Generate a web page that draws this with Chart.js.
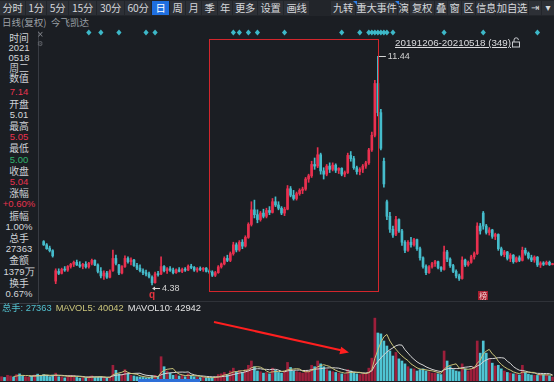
<!DOCTYPE html>
<html><head><meta charset="utf-8">
<script src="https://cdn.jsdelivr.net/npm/chart.js@4.4.1/dist/chart.umd.min.js"></script>
<style>
html,body{margin:0;padding:0;background:#1b1e23;width:554px;height:382px;overflow:hidden;}
body{position:relative;font-family:"Liberation Sans","Noto Sans CJK SC",sans-serif;}
.abs{position:absolute;white-space:nowrap;}
#tbbg{position:absolute;left:0;top:0;width:554px;height:16px;background:#22252a;}
.btn{position:absolute;top:1px;height:14px;line-height:14px;font-size:10.3px;color:#d6d8dc;background:#2d3036;text-align:center;font-family:"Noto Sans CJK SC",sans-serif;white-space:nowrap;overflow:visible;letter-spacing:-0.2px;}
.btn.on{background:#1f6fe0;color:#fff;}
.tri{position:absolute;top:1px;width:0;height:0;border-top:4px solid #2f7fe8;border-left:4px solid transparent;}
#panel{position:absolute;left:0;top:31px;width:38px;height:272px;background:#1b1e23;border-right:1px solid #383b42;border-bottom:1px solid #383b42;z-index:5;}
.pl{position:absolute;left:0;width:38px;text-align:center;height:12px;line-height:12px;white-space:nowrap;}
.lab{font-family:"Noto Sans CJK SC",sans-serif;font-size:9.8px;color:#cfd2d7;}
.val{font-family:"Liberation Sans",sans-serif;font-size:9.5px;color:#d4d6da;}
canvas{position:absolute;left:0;}
</style></head>
<body>
<div id="tbbg"></div>
<div id="tb"></div>
<div class="abs" style="left:2px;top:16px;height:12px;line-height:12px;font-size:9.5px;color:#9ba0a6;font-family:'Noto Sans CJK SC',sans-serif;">日线(复权)</div>
<div class="abs" style="left:51px;top:16px;height:12px;line-height:12px;font-size:9.5px;color:#9ba0a6;font-family:'Noto Sans CJK SC',sans-serif;">今飞凯达</div>

<canvas id="price" width="554" height="275" style="top:26px"></canvas>
<canvas id="vol" width="554" height="69" style="top:312px"></canvas>

<div class="abs" style="left:38px;top:301px;width:516px;height:1px;background:#2f3238;"></div>
<div class="abs" style="left:138px;top:379px;width:62px;height:3px;background:#2d6fd8;"></div>

<div id="panel"></div>
<div class="abs" style="left:37px;top:30px;font-size:8px;color:#8a8d93;z-index:6;font-family:'DejaVu Sans';">×</div>
<div class="abs" style="left:37px;top:40px;font-size:7px;color:#6c6f75;z-index:6;font-family:'DejaVu Sans';">⚙</div>

<div id="vlegend" class="abs" style="left:2px;top:302px;height:12px;line-height:12px;font-size:9.3px;z-index:6;"></div>

<div class="abs" style="left:395px;top:37px;height:12px;line-height:12px;font-size:9.8px;color:#dcdde0;text-decoration:underline;" id="range"></div>
<svg class="abs" style="left:510px;top:36px" width="12" height="12"><path d="M4 6 V4 a2.2 2.2 0 0 1 4.4 0" fill="none" stroke="#c9cbd0" stroke-width="1"/><rect x="2.5" y="6" width="7" height="5" fill="none" stroke="#c9cbd0" stroke-width="1"/></svg>

<svg class="abs" style="left:0;top:0;z-index:7;pointer-events:none" width="554" height="382">
<line x1="214" y1="322" x2="341" y2="350.2" stroke="#ff1f1f" stroke-width="2"/>
<polygon points="349,352.5 339.4,354.2 341.2,346.8" fill="#ff1f1f"/>
</svg>

<script>
// ---------- DATA ----------
// 14 leading bars are hidden behind the info panel (price not visible), volume visible
const open = [null,null,null,null,null,null,null,null,null,null,null,null,null,null,
5.72,5.62,5.52,5.44,4.50,4.80,4.74,4.86,4.84,4.95,
5.02,5.08,5.00,4.96,5.02,4.94,5.05,5.14,5.00,4.80,
4.66,4.75,4.62,4.82,5.20,5.00,4.75,4.95,5.20,5.10,
5.15,4.98,4.90,4.82,4.76,4.72,4.62,4.45,4.72,4.72,
4.95,4.82,4.88,4.84,4.76,4.85,4.80,4.86,4.84,4.96,
4.92,4.84,4.88,4.86,4.90,4.80,4.78,4.68,4.76,4.94,
5.03,5.20,5.14,5.35,5.62,5.46,5.70,5.58,5.85,6.25,
6.70,6.55,6.40,6.60,6.50,6.68,6.62,6.95,6.85,6.75,
6.60,6.72,7.35,7.15,7.05,7.20,7.30,7.34,7.65,7.75,
8.10,8.05,8.40,7.90,7.80,8.05,7.95,8.08,7.92,7.98,
7.80,7.85,8.38,8.28,8.00,7.88,7.95,8.05,8.15,8.55,
9.00,10.60,9.70,8.20,6.95,6.50,6.10,5.95,6.40,6.05,
5.70,5.45,5.70,5.62,5.78,5.50,5.22,4.95,4.76,4.94,
5.04,5.10,4.92,4.86,5.40,5.18,4.98,4.80,4.66,4.58,
5.15,5.00,5.08,5.25,5.35,6.20,6.60,6.20,6.00,6.08,
5.88,5.94,5.50,5.32,5.40,5.20,5.30,5.10,5.22,5.14,
5.45,5.36,5.22,5.15,5.24,5.00,5.06,5.02,5.08,5.01];
const high = [null,null,null,null,null,null,null,null,null,null,null,null,null,null,
5.75,5.66,5.58,5.47,4.88,4.88,4.90,4.95,4.98,5.05,
5.12,5.15,5.10,5.05,5.10,5.08,5.18,5.16,5.03,4.92,
4.82,4.80,4.85,5.46,5.30,5.02,4.98,5.28,5.25,5.22,
5.17,5.05,5.00,4.88,4.84,4.78,4.66,4.78,4.80,5.25,
4.98,4.92,4.95,4.90,4.88,4.92,4.90,4.92,5.00,5.02,
4.95,4.92,4.94,4.92,4.92,4.85,4.82,4.80,4.98,5.06,
5.25,5.30,5.40,5.70,5.68,5.75,5.78,5.90,6.30,6.95,
7.00,6.70,6.65,6.72,6.75,6.80,7.05,7.10,6.95,6.80,
6.78,7.45,7.42,7.30,7.25,7.35,7.40,7.70,7.80,8.20,
8.30,8.62,8.45,8.00,8.10,8.15,8.15,8.12,8.00,8.00,
7.90,8.45,8.50,8.35,8.05,8.00,8.10,8.20,8.60,9.10,
10.70,11.44,9.80,8.30,7.00,6.62,6.20,6.50,6.42,6.10,
5.75,5.75,5.85,5.82,5.80,5.55,5.25,5.00,4.98,5.08,
5.14,5.12,4.95,5.58,5.45,5.22,5.02,4.85,4.72,5.25,
5.18,5.12,5.30,5.40,6.30,6.28,6.65,6.25,6.15,6.10,
5.98,5.96,5.55,5.45,5.42,5.35,5.32,5.25,5.28,5.55,
5.52,5.40,5.30,5.28,5.26,5.10,5.10,5.12,5.12,5.05];
const low = [null,null,null,null,null,null,null,null,null,null,null,null,null,null,
5.60,5.48,5.40,5.24,4.42,4.70,4.72,4.80,4.80,4.90,
4.95,4.98,4.92,4.88,4.90,4.90,5.00,4.98,4.75,4.60,
4.55,4.58,4.60,4.80,5.00,4.70,4.72,4.92,5.05,5.00,
4.95,4.85,4.78,4.70,4.66,4.60,4.38,4.44,4.65,4.70,
4.78,4.74,4.80,4.72,4.74,4.78,4.76,4.80,4.82,4.88,
4.80,4.78,4.82,4.80,4.78,4.74,4.64,4.64,4.74,4.90,
5.00,5.10,5.10,5.30,5.40,5.42,5.50,5.55,5.82,6.20,
6.45,6.30,6.35,6.45,6.45,6.55,6.60,6.80,6.70,6.55,
6.52,6.70,7.10,7.00,7.00,7.15,7.20,7.30,7.55,7.70,
7.95,8.00,7.80,7.65,7.75,7.85,7.90,7.85,7.82,7.75,
7.72,7.82,8.20,7.95,7.80,7.78,7.85,7.98,8.10,8.50,
8.95,9.60,8.55,7.40,6.40,6.00,5.85,5.90,6.00,5.60,
5.38,5.42,5.55,5.58,5.45,5.15,4.90,4.70,4.74,4.90,
4.95,4.88,4.80,4.84,5.10,4.92,4.76,4.60,4.52,4.56,
4.95,4.96,5.05,5.18,5.32,5.95,6.10,5.95,5.92,5.82,
5.78,5.45,5.28,5.25,5.15,5.10,5.05,5.08,5.10,5.12,
5.30,5.18,5.10,5.08,4.95,4.92,4.98,5.00,4.98,5.00];
const close = [null,null,null,null,null,null,null,null,null,null,null,null,null,null,
5.62,5.50,5.44,5.28,4.82,4.74,4.86,4.84,4.95,5.02,
5.08,5.00,4.96,5.02,4.94,5.05,5.14,5.00,4.80,4.66,
4.75,4.62,4.80,5.20,5.05,4.75,4.95,5.20,5.10,5.15,
4.98,4.90,4.82,4.76,4.72,4.64,4.45,4.72,4.70,4.95,
4.82,4.88,4.84,4.76,4.85,4.80,4.86,4.84,4.96,4.92,
4.84,4.88,4.86,4.90,4.80,4.78,4.68,4.76,4.94,5.03,
5.20,5.14,5.35,5.62,5.46,5.70,5.58,5.85,6.25,6.70,
6.55,6.40,6.60,6.50,6.68,6.62,6.95,6.85,6.75,6.60,
6.72,7.35,7.15,7.05,7.20,7.30,7.34,7.65,7.75,8.10,
8.05,8.40,7.90,7.80,8.05,7.95,8.08,7.92,7.98,7.80,
7.85,8.38,8.28,8.00,7.88,7.95,8.05,8.15,8.55,9.00,
10.60,9.70,8.60,7.50,6.50,6.10,5.92,6.40,6.05,5.70,
5.45,5.70,5.62,5.78,5.50,5.22,4.95,4.76,4.94,5.04,
5.10,4.92,4.86,5.40,5.18,4.98,4.80,4.66,4.58,5.15,
5.00,5.08,5.25,5.35,6.20,6.05,6.20,6.00,6.08,5.88,
5.94,5.50,5.32,5.40,5.20,5.30,5.10,5.22,5.14,5.45,
5.36,5.22,5.15,5.24,5.00,5.06,5.02,5.08,5.01,5.04];
// volume in thousands of lots (手)
const volumeK = [30,25,40,35,28,45,50,38,30,26,33,42,48,40,
45,38,30,42,55,30,28,22,35,40,
38,25,20,24,22,30,36,25,28,32,
24,20,26,110,75,50,45,80,50,40,
35,30,28,25,22,24,35,40,30,170,
100,70,55,40,45,35,40,30,50,38,
30,28,24,26,22,20,25,30,45,50,
60,45,70,90,65,75,60,80,110,140,
100,70,65,55,60,50,90,75,60,55,
70,130,95,70,65,60,55,75,70,110,
100,140,120,100,80,70,65,60,55,50,
45,80,70,60,50,45,50,55,90,160,
440,336,330,280,245,210,175,200,155,140,
120,100,85,85,70,80,85,70,65,55,
55,50,45,210,140,100,80,70,65,120,
85,70,85,100,280,195,280,195,155,125,
105,110,85,70,60,55,50,50,42,110,
60,48,42,40,39,50,45,42,36,27.363];
const hiddenVolUp = [1,0,1,1,0,1,0,0,1,1,0,1,0,0];
const mavol5K = [null,null,null,null,
31.6,34.6,39.6,39.2,38.2,37.8,35.4,33.8,35.8,37.8,
41.6,42.6,40.2,39,
42,39,37,35.4,34,31,32.6,32,31.6,29.4,
25.8,24.2,26.4,27.4,28.2,30.2,29,25.8,26,42.4,
51,56.2,61.2,72,60,53,50,47,36.6,31.6,
28,25.8,26.8,29.2,30.2,59.8,75,82,85,87,
62,49,43,38,40,38.6,37.6,35.2,34,29.2,
26,24,23.4,24.6,28.4,34,42,46,54,63,
66,69,72,74,78,93,98,100,97,86,
70,60,64,66,67,66,70,78,82,84,
86,84,69,65,65,74,82,99,108,114,
108,102,87,75,66,60,55,58,60,61,
61,61,55,52,58,80,159,216,271,309,
326,280,248,222,197,176,158,143,120,106,
92,84,81,78,74,71,66,59,54,83,
100,109,115,120,91,87,84,82,85,92,
124,146,188,210,221,190,172,138,116,99,
86,76,64,57,51.4,61.4,62.4,62,60.4,60,
45.8,43.8,43.2,43.2,42.4,40.04];
const mavol10K = [null,null,null,null,null,null,null,null,null,
34.7,35,36.7,37.5,38,39.7,39,37,37.4,39.9,40.3,39.8,37.8,36.5,
36.5,35.8,34.5,33.5,31.7,28.4,28.4,29.2,29.5,28.8,
28,26.6,26.1,26.7,35.3,40.6,42.6,43.5,49,51.2,
52,53.1,54.1,54.3,45.8,40.5,37.9,36.9,32.9,30.9,
43.9,50.4,54.4,57.1,58.6,60.9,62,62.5,61.5,63.5,
50.3,43.3,39.1,36,34.6,32.3,30.8,29.3,29.3,28.8,
30,33,34.7,39.3,45.7,50,55.5,59,64,70.5,
79.5,83.5,86,85.5,82,81.5,79,82,81.5,76.5,
68,65,71,74,75.5,76,77,73.5,73.5,74.5,
80,83,84,86.5,89.5,91,92,93,91.5,90,
84,78.5,72.5,67.5,63.5,60.5,58,56.5,56,59.5,
70.5,110,135.5,161.5,183.5,203,219.5,232,246.5,253,
251,219,195.5,171,151.5,134,121,112,99,90,
81.5,75,70,66,78.5,85.5,87.5,87,87,87,
93.5,96.5,98.5,102.5,91.5,105.5,115,135,147.5,156.5,
157,159,163,163,160,138,124,101,86.5,75.2,
73.7,69.2,63,58.7,55.7,53.6,53.1,52.6,51.8,51.2,42.9];
// event markers (bar indices) and annotations
const eventBars = [29,33,39,48,51,77,79,82,85,94,113,119,122,123,124,125,126,127,128,130,147,160,178];
const boxBars = [69,125];
const boxPrices = [4.195,11.97];
const qBar = 50;
const bangBar = 160;
const rangeText = '20191206-20210518 (349)';
const volLegend = [['总手: 27363','#52c1cf'],['MAVOL5: 40042','#cbc67b'],['MAVOL10: 42942','#e4e4e4']];
const infoPanel = [
 ['时间','lab',null,37.7],['2021','val',null,47.7],['0518','val',null,57.7],['周二','lab',null,68.3],
 ['数值','lab',null,78.3],['7.14','val','#e8334f',92.3],['开盘','lab',null,103.5],['5.01','val',null,114.7],
 ['最高','lab',null,125.9],['5.05','val','#e8334f',137.1],['最低','lab',null,148.3],['5.00','val','#2fb36d',159.5],
 ['收盘','lab',null,170.7],['5.04','val','#e8334f',181.9],['涨幅','lab',null,193.1],['+0.60%','val','#e8334f',204.3],
 ['振幅','lab',null,215.5],['1.00%','val',null,226.7],['总手','lab',null,237.9],['27363','val',null,249.1],
 ['金额','lab',null,260.3],['1379万','val',null,271.5],['换手','lab',null,282.7],['0.67%','val',null,293.9]];
const toolbarLeft = [['分时',0,25],['1分',26,20],['5分',47,21],['15分',69,27],['30分',97,27],['60分',125,26],['日',152,17,1],
 ['周',170,15],['月',186,15],['季',202,15],['年',218,14],['更多',233,24],['设置',258,25],['画线',284,25]];
const toolbarRight = [['九转',331,24],['重大事件',356,41],['演',398,11],['复权',410,24],['叠',435,12],['窗',448,13],
 ['区',462,13],['信息',476,19],['加自选',496,32],['⇥',529,12],['▾',542,12]];
const categories = open.map((_, i) => String(i + 1));

// ---------- DOM TEXT ----------
const tb = document.getElementById('tb');
toolbarLeft.concat(toolbarRight).forEach(b => {
  const s = document.createElement('span');
  s.className = 'btn' + (b[3] ? ' on' : '');
  s.style.left = b[1] + 'px'; s.style.width = b[2] + 'px';
  s.textContent = b[0];
  if (b[0] === '⇥' || b[0] === '▾') { s.style.fontFamily = 'DejaVu Sans'; s.style.fontSize = '10px'; }
  tb.appendChild(s);
});
[353, 395].forEach(x => { const t = document.createElement('div'); t.className = 'tri'; t.style.left = x + 'px'; tb.appendChild(t); });
const panel = document.getElementById('panel');
infoPanel.forEach(p => {
  const d = document.createElement('div');
  d.className = 'pl ' + p[1];
  d.style.top = (p[3] - 31 - 6) + 'px';
  if (p[2]) d.style.color = p[2];
  d.textContent = p[0];
  panel.appendChild(d);
});
const vl = document.getElementById('vlegend');
vl.innerHTML = volLegend.map(v => '<span style="color:' + v[1] + ';margin-right:4px">' + v[0] + '</span>').join('');
document.getElementById('range').textContent = rangeText;

// ---------- CHARTS ----------
const UP = '#e9304f', DOWN = '#45bccb';
const candleColors = open.map((o, i) => (close[i] >= o ? UP : DOWN));
const wicks = open.map((o, i) => (o == null ? null : [low[i], high[i]]));
const bodies = open.map((o, i) => (o == null ? null : [o, close[i]]));
const volColors = volumeK.map((v, i) => {
  const up = open[i] == null ? hiddenVolUp[i] === 1 : close[i] >= open[i];
  return up ? '#9e1f3b' : '#4fc4d4';
});

const overlay = {
  id: 'overlay',
  afterDatasetsDraw(chart) {
    const {ctx, chartArea: ca, scales: {x, y}} = chart;
    ctx.save();
    const bx1 = Math.round(x.getPixelForValue(boxBars[0])) + 0.5, bx2 = Math.round(x.getPixelForValue(boxBars[1])) + 0.5;
    const by1 = Math.round(y.getPixelForValue(boxPrices[1])) + 0.5, by2 = Math.round(y.getPixelForValue(boxPrices[0])) + 0.5;
    ctx.strokeStyle = '#d3262c'; ctx.lineWidth = 1;
    ctx.strokeRect(bx1, by1, bx2 - bx1, by2 - by1);
    ctx.fillStyle = '#3db8c8';
    eventBars.forEach(i => {
      const cx = x.getPixelForValue(i), cy = ca.top + 6.5;
      ctx.beginPath(); ctx.moveTo(cx, cy - 3); ctx.lineTo(cx + 2.6, cy); ctx.lineTo(cx, cy + 3); ctx.lineTo(cx - 2.6, cy); ctx.closePath(); ctx.fill();
    });
    let im = -1, il = -1;
    high.forEach((v, i) => { if (v != null && (im < 0 || v > high[im])) im = i; });
    low.forEach((v, i) => { if (v != null && (il < 0 || v < low[il])) il = i; });
    ctx.font = '9px "Liberation Sans"'; ctx.textBaseline = 'middle';
    ctx.fillStyle = '#d4d4d4'; ctx.strokeStyle = '#d4d4d4';
    let px = x.getPixelForValue(im), py = Math.round(y.getPixelForValue(high[im])) + 0.5;
    ctx.beginPath(); ctx.moveTo(px + 1, py); ctx.lineTo(px + 8, py); ctx.stroke();
    ctx.fillText(high[im].toFixed(2), px + 10, py + 0.5);
    px = x.getPixelForValue(il); py = Math.round(y.getPixelForValue(low[il])) + 3.5;
    ctx.beginPath(); ctx.moveTo(px + 1, py); ctx.lineTo(px + 8, py); ctx.stroke();
    ctx.beginPath(); ctx.moveTo(px, py); ctx.lineTo(px + 3, py - 2); ctx.lineTo(px + 3, py + 2); ctx.closePath(); ctx.fill();
    ctx.fillText(low[il].toFixed(2), px + 10, py + 0.5);
    ctx.fillStyle = '#e5343f'; ctx.font = 'bold 10px "Liberation Sans"'; ctx.textAlign = 'center';
    ctx.fillText('q', x.getPixelForValue(qBar), ca.bottom - 6);
    const bxc = x.getPixelForValue(bangBar);
    ctx.fillStyle = '#a81e2e'; ctx.fillRect(Math.round(bxc) - 5, ca.bottom - 10, 10, 9);
    ctx.fillStyle = '#f2d6d6'; ctx.font = '8px "Noto Sans CJK SC"';
    ctx.fillText('榜', bxc, ca.bottom - 5.5);
    ctx.restore();
  }
};

new Chart(document.getElementById('price'), {
  type: 'bar',
  data: {
    labels: categories,
    datasets: [
      {data: wicks, backgroundColor: candleColors, barThickness: 1, grouped: false, order: 2},
      {data: bodies, backgroundColor: candleColors, barThickness: 2, grouped: false, minBarLength: 1, order: 1}
    ]
  },
  options: {
    responsive: false, animation: false, events: [], devicePixelRatio: 1,
    layout: {padding: 0},
    plugins: {legend: {display: false}, tooltip: {enabled: false}},
    scales: {
      x: {display: false, offset: true, grid: {display: false}},
      y: {display: false, min: 3.886, max: 12.374}
    }
  },
  plugins: [overlay]
});

new Chart(document.getElementById('vol'), {
  type: 'bar',
  data: {
    labels: categories,
    datasets: [
      {type: 'line', data: mavol5K, borderColor: '#c9c47a', borderWidth: 1, pointRadius: 0, tension: 0, order: 0},
      {type: 'line', data: mavol10K, borderColor: '#d6d6d6', borderWidth: 1, pointRadius: 0, tension: 0, order: 0},
      {data: volumeK, backgroundColor: volColors, barThickness: 2, order: 1}
    ]
  },
  options: {
    responsive: false, animation: false, events: [], devicePixelRatio: 1,
    layout: {padding: 0},
    plugins: {legend: {display: false}, tooltip: {enabled: false}},
    scales: {
      x: {display: false, offset: true},
      y: {display: false, min: 0, max: 483}
    }
  }
});
</script>
</body></html>
